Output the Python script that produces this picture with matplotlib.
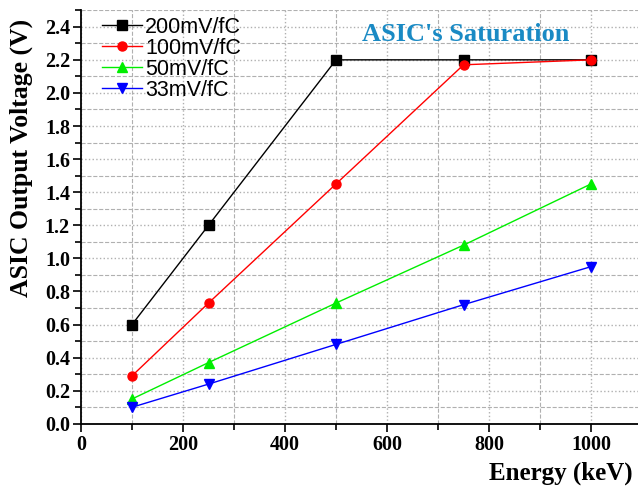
import matplotlib.pyplot as plt
from matplotlib.ticker import MultipleLocator

# Data
energy = [100, 250, 500, 750, 1000]
v_200 = [0.60, 1.20, 2.20, 2.20, 2.20]
v_100 = [0.29, 0.73, 1.45, 2.17, 2.20]
v_50 = [0.15, 0.37, 0.73, 1.08, 1.45]
v_33 = [0.10, 0.24, 0.48, 0.72, 0.95]

labels = ['200mV/fC', '100mV/fC', '50mV/fC', '33mV/fC']
colors = ['black', 'red', '#00ee00', 'blue']
markers = ['s', 'o', '^', 'v']

fig = plt.figure(figsize=(6.38, 4.86), dpi=100)
ax = fig.add_axes([0.127, 0.128, 0.873, 0.851])

for y, lab, c, m in zip([v_200, v_100, v_50, v_33], labels, colors, markers):
    ax.plot(energy, y, color=c, marker=m, markersize=6.5, linewidth=1, label=lab)

ax.set_xlim(0, 1092)
ax.set_ylim(0, 2.5)
ax.xaxis.set_major_locator(MultipleLocator(200))
ax.xaxis.set_minor_locator(MultipleLocator(100))
ax.yaxis.set_major_locator(MultipleLocator(0.2))
ax.yaxis.set_minor_locator(MultipleLocator(0.1))
ax.yaxis.set_major_formatter(plt.FuncFormatter(lambda v, p: f'{v:.1f}'))

# grid: dotted major, dashed minor
ax.grid(which='major', color='#b0b0b0', linestyle=':', linewidth=1)
ax.grid(which='minor', color='#b0b0b0', linestyle='--', linewidth=0.8)
ax.set_axisbelow(True)

ax.spines['top'].set_visible(False)
ax.spines['right'].set_visible(False)
ax.spines['left'].set_linewidth(1.3)
ax.spines['bottom'].set_linewidth(1.3)
ax.tick_params(which='major', direction='out', length=6, width=1.2, pad=2)
ax.tick_params(which='minor', direction='out', length=4, width=1.2)
for t in ax.get_xticklabels() + ax.get_yticklabels():
    t.set_fontfamily('Liberation Serif')
    t.set_fontweight('bold')
    t.set_fontsize(14.5)

ax.set_ylabel('ASIC Output Voltage (V)', fontfamily='Liberation Serif',
              fontweight='bold', fontsize=18.5)
ax.yaxis.set_label_coords(-0.087, 0.643)
fig.text(489 / 638, 1 - 473 / 486, 'Energy (keV)', fontfamily='Liberation Serif',
         fontweight='bold', fontsize=18, ha='left', va='center')

ax.text(755, 2.355, "ASIC's Saturation", color='#1a8ac4', fontfamily='Liberation Serif',
        fontweight='bold', fontsize=19, ha='center', va='center')

leg = ax.legend(loc='upper left', bbox_to_anchor=(0.015, 1.015), frameon=False,
                prop={'family': 'Liberation Sans', 'size': 15.5},
                handlelength=1.85, labelspacing=0.0, handletextpad=0.15,
                borderaxespad=0.2)

fig.savefig('out.png', dpi=100)
